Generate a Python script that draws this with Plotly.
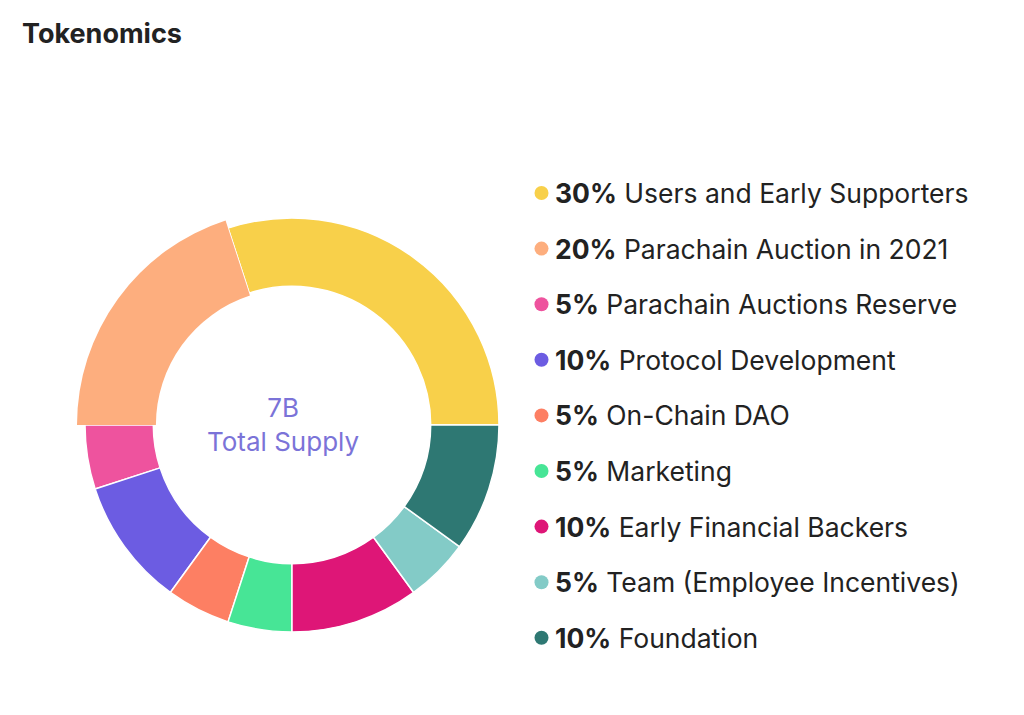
import plotly.graph_objects as go

# data
labels = ['Users and Early Supporters', 'Parachain Auction in 2021', 'Parachain Auctions Reserve',
          'Protocol Development', 'On-Chain DAO', 'Marketing', 'Early Financial Backers',
          'Team (Employee Incentives)', 'Foundation']
shares = [30, 20, 5, 10, 5, 5, 10, 5, 10]
colors = ['#F8D04A', '#FDAE7E', '#EE539E', '#6C5CE2', '#FD7F63', '#47E596', '#DE1677', '#83CBC7', '#2E7873']
highlighted = 'Parachain Auction in 2021'
center_value = '7B'
center_label = 'Total Supply'

# page has an 8px body margin, so the figure is drawn a bit smaller and shifted
OFF = 8
W, H = 1024 - 2 * OFF, 715 - 2 * OFF
FONT = 'Inter'


def px(x):
    return (x - OFF) / W


def py(y):
    return 1 - (y - OFF) / H


def pie_domain(cx, cy, r):
    return dict(x=[px(cx - r), px(cx + r)], y=[py(cy + r), py(cy - r)])


fig = go.Figure()

# the ring
fig.add_trace(go.Pie(
    labels=labels, values=shares, sort=False, direction='counterclockwise', rotation=-18,
    hole=0.67, domain=pie_domain(292, 425, 207),
    marker=dict(colors=colors, line=dict(color='white', width=1.5)),
    textinfo='none', showlegend=False, hoverinfo='label+percent',
))

# active slice drawn a little bigger on top
hl_colors = [c if l == highlighted else 'rgba(0,0,0,0)' for l, c in zip(labels, colors)]
fig.add_trace(go.Pie(
    labels=labels, values=shares, sort=False, direction='counterclockwise', rotation=-18,
    hole=0.633, domain=pie_domain(292, 425, 215),
    marker=dict(colors=hl_colors, line=dict(width=0)),
    textinfo='none', showlegend=False, hoverinfo='skip',
))

# custom legend
row0, step = 193, 55.6
shapes = []
annotations = []
for i, (lab, s, c) in enumerate(zip(labels, shares, colors)):
    y = row0 + i * step
    shapes.append(dict(type='circle', xref='paper', yref='paper',
                       x0=px(541.5 - 7), x1=px(541.5 + 7), y0=py(y + 7), y1=py(y - 7),
                       fillcolor=c, line=dict(width=0)))
    annotations.append(dict(x=px(553), y=py(y), xref='paper', yref='paper', xanchor='left', yanchor='middle',
                            text=f'<b>{s}%</b> {lab}', showarrow=False,
                            font=dict(family=FONT, size=26.5, color='#222222')))

# centre text
annotations.append(dict(x=px(283), y=py(424), xref='paper', yref='paper', xanchor='center', yanchor='middle',
                        text=f'{center_value}<br>{center_label}', showarrow=False,
                        font=dict(family=FONT, size=26, color='#7B73D8')))

fig.update_layout(
    width=W, height=H,
    margin=dict(l=0, r=0, t=0, b=0),
    paper_bgcolor='white', plot_bgcolor='white',
    title=dict(text='<b>Tokenomics</b>', x=px(22), xanchor='left', y=py(34), yanchor='middle',
               font=dict(family=FONT, size=27, color='#222222')),
    shapes=shapes, annotations=annotations,
)

fig.write_html('out.html')
